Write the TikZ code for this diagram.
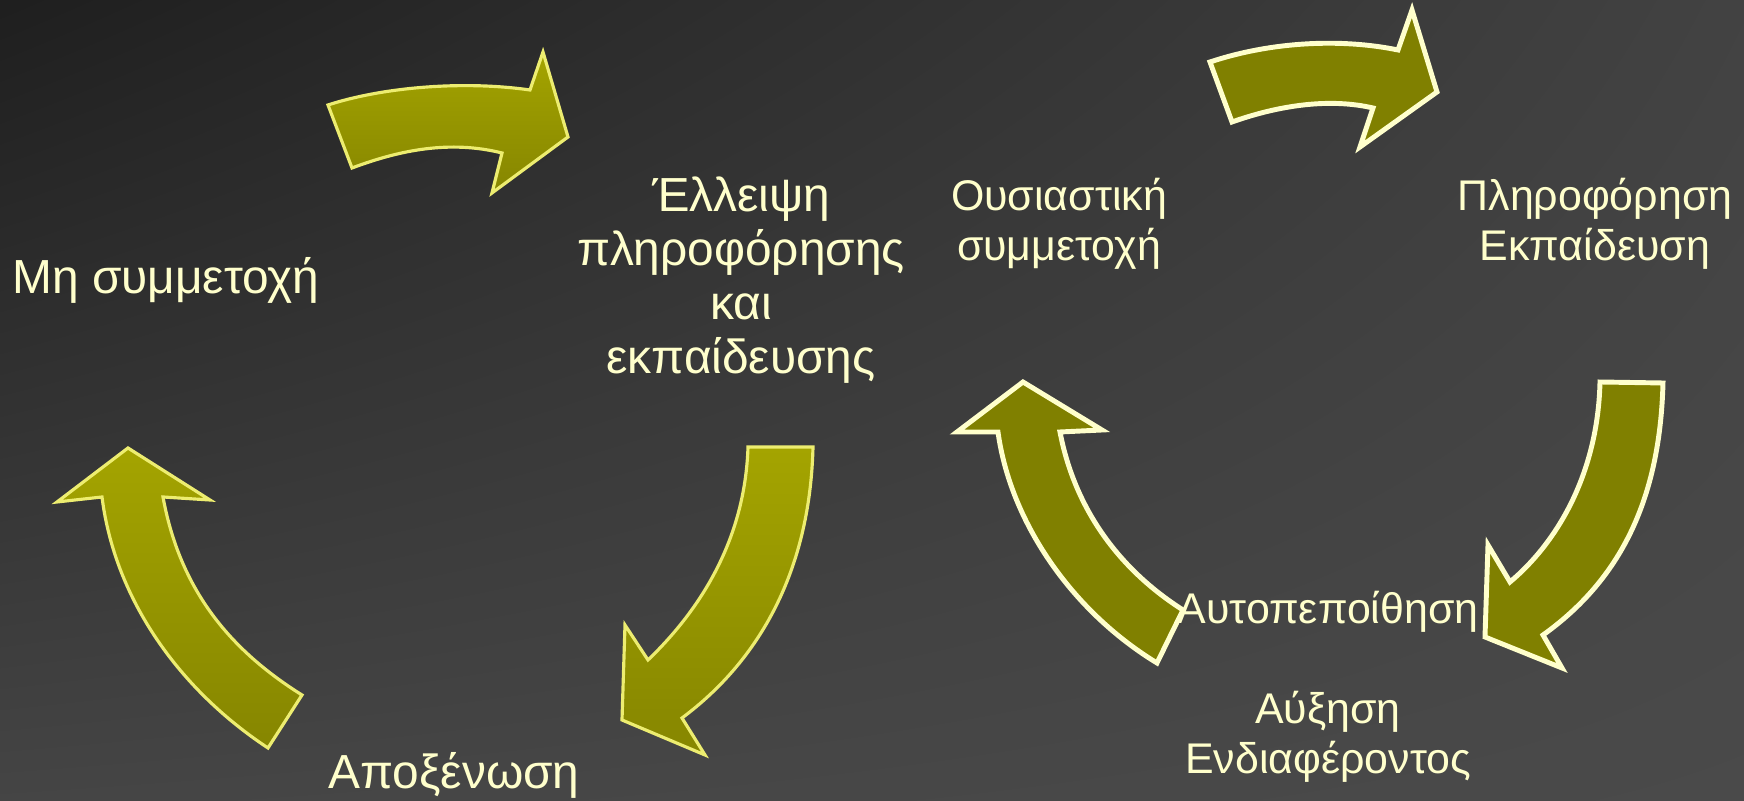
\documentclass[tikz,border=0pt]{standalone}
\usepackage{fontspec}
\setmainfont{Liberation Sans}
\usepackage{tikz}
\usetikzlibrary{shadings}

\definecolor{cream}{HTML}{FFFFCC}
\definecolor{olivefill}{HTML}{808000}
\definecolor{shinytop}{HTML}{A4A400}
\definecolor{shinybot}{HTML}{868600}
\definecolor{shinyedge}{HTML}{EDED70}

\begin{document}
\begin{tikzpicture}[x=0.01cm,y=-0.01cm,
	big/.style={text=cream,align=center,font=\fontsize{13.6}{15.4}\selectfont},
	small/.style={text=cream,align=center,font=\fontsize{12.2}{14.2}\selectfont},
	shiny/.style={top color=shinytop,bottom color=shinybot,draw=shinyedge,line width=0.9pt,line join=miter},
	flat/.style={fill=olivefill,draw=cream,line width=1.4pt,line join=miter}]
	%    background
	\shade[upper left=black!88,upper right=black!74,lower left=black!73,lower right=black!71]
		(0,0) rectangle (1744,801);
	\useasboundingbox (0,0) rectangle (1744,801);

	% left cycle
	\node[big] (nopart) at (166,280) {Μη συμμετοχή};
	\node[big] (lack) at (741,280) {Έλλειψη\\πληροφόρησης\\και\\εκπαίδευσης};
	\node[big] (alien) at (454,775) {Αποξένωση};

	\path[shiny] (328,105) .. controls (380,88) and (460,80) .. (530,90)
		-- (543,52) -- (568,137) -- (492,193) -- (502,153)
		.. controls (450,140) and (400,150) .. (352,168) -- cycle;
	\path[shiny] (748,447) -- (813,447)
		.. controls (810,570) and (760,660) .. (682,718)
		-- (705,755) -- (622,720) -- (625,625) -- (648,660)
		.. controls (700,610) and (745,540) .. (748,447) -- cycle;
	\path[shiny] (128,448) -- (210,500) -- (163,497)
		.. controls (180,590) and (230,650) .. (302,695)
		-- (268,748)
		.. controls (180,690) and (115,600) .. (102,497)
		-- (57,502) -- cycle;

	% right cycle
	\node[small] (realpart) at (1059,224) {Ουσιαστική\\συμμετοχή};
	\node[small] (info) at (1595,224) {Πληροφόρηση\\Εκπαίδευση};
	\node[small] (confid) at (1328,612) {Αυτοπεποίθηση};
	\node[small] (interest) at (1328,737) {Αύξηση\\Ενδιαφέροντος};

	\path[flat] (1210,62) .. controls (1270,42) and (1340,38) .. (1398,50)
		-- (1412,10) -- (1437,92) -- (1360,147) -- (1373,108)
		.. controls (1330,98) and (1280,105) .. (1232,122) -- cycle;
	\path[flat] (1600,382) -- (1663,383)
		.. controls (1660,500) and (1620,580) .. (1543,635)
		-- (1562,668) -- (1485,637) -- (1488,545) -- (1510,582)
		.. controls (1560,540) and (1598,470) .. (1600,382) -- cycle;
	\path[flat] (1023,382) -- (1102,430) -- (1060,432)
		.. controls (1075,510) and (1120,570) .. (1183,610)
		-- (1157,663)
		.. controls (1070,610) and (1010,520) .. (998,432)
		-- (957,432) -- cycle;

\end{tikzpicture}
\end{document}
